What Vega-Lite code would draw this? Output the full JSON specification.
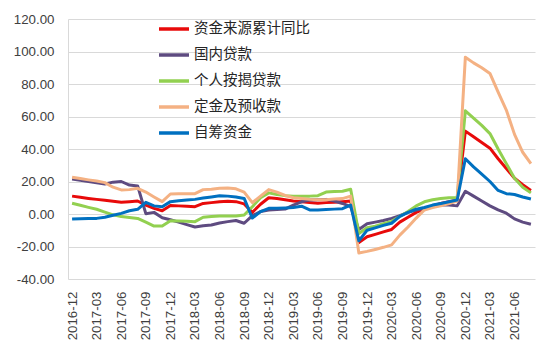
{
  "$schema": "https://vega.github.io/schema/vega-lite/v6.json",
  "width": 467,
  "height": 260,
  "autosize": "none",
  "padding": {"left": 68, "top": 19, "right": 15, "bottom": 78},
  "background": "white",
  "config": {"view": {"stroke": null}, "font": "Liberation Sans"},
  "data": {"values": [
    {"m":"2016-12","资金来源累计同比":11,"国内贷款":21.5,"个人按揭贷款":6.6,"定金及预收款":22.6,"自筹资金":-3.1},
    {"m":"2017-01","资金来源累计同比":10.3,"国内贷款":20.8,"个人按揭贷款":5.4,"定金及预收款":21.8,"自筹资金":-2.9},
    {"m":"2017-02","资金来源累计同比":9.6,"国内贷款":20,"个人按揭贷款":4.1,"定金及预收款":21,"自筹资金":-2.8},
    {"m":"2017-03","资金来源累计同比":9,"国内贷款":19.2,"个人按揭贷款":2.9,"定金及预收款":20.3,"自筹资金":-2.7},
    {"m":"2017-04","资金来源累计同比":8.4,"国内贷款":18.5,"个人按揭贷款":1.2,"定金及预收款":19.3,"自筹资金":-2},
    {"m":"2017-05","资金来源累计同比":7.8,"国内贷款":19.6,"个人按揭贷款":-0.5,"定金及预收款":16.5,"自筹资金":-0.8},
    {"m":"2017-06","资金来源累计同比":7.2,"国内贷款":20,"个人按揭贷款":-1.6,"定金及预收款":14.8,"自筹资金":0.4},
    {"m":"2017-07","资金来源累计同比":7.6,"国内贷款":17.8,"个人按揭贷款":-2.2,"定金及预收款":15,"自筹资金":2},
    {"m":"2017-08","资金来源累计同比":8,"国内贷款":17.3,"个人按揭贷款":-2.7,"定金及预收款":15.8,"自筹资金":2.9},
    {"m":"2017-09","资金来源累计同比":5.5,"国内贷款":0.2,"个人按揭贷款":-5,"定金及预收款":13.5,"自筹资金":7.2},
    {"m":"2017-10","资金来源累计同比":3.5,"国内贷款":1,"个人按揭贷款":-7.4,"定金及预收款":10.5,"自筹资金":5},
    {"m":"2017-11","资金来源累计同比":2,"国内贷款":-2.3,"个人按揭贷款":-7.4,"定金及预收款":7.6,"自筹资金":4.5},
    {"m":"2017-12","资金来源累计同比":5.2,"国内贷款":-3.5,"个人按揭贷款":-4.1,"定金及预收款":12.3,"自筹资金":7.6},
    {"m":"2018-01","资金来源累计同比":5,"国内贷款":-5,"个人按揭贷款":-4.3,"定金及预收款":12.4,"自筹资金":8.2},
    {"m":"2018-02","资金来源累计同比":4.8,"国内贷款":-6.5,"个人按揭贷款":-4.5,"定金及预收款":12.4,"自筹资金":8.6},
    {"m":"2018-03","资金来源累计同比":4.5,"国内贷款":-8,"个人按揭贷款":-4.7,"定金及预收款":12.5,"自筹资金":9},
    {"m":"2018-04","资金来源累计同比":6.5,"国内贷款":-7.2,"个人按揭贷款":-2,"定金及预收款":15,"自筹资金":9.8},
    {"m":"2018-05","资金来源累计同比":7,"国内贷款":-6.8,"个人按揭贷款":-1.5,"定金及预收款":15.2,"自筹资金":10.5},
    {"m":"2018-06","资金来源累计同比":7.6,"国内贷款":-5.5,"个人按揭贷款":-1.3,"定金及预收款":15.8,"自筹资金":11.2},
    {"m":"2018-07","资金来源累计同比":7.8,"国内贷款":-4.7,"个人按揭贷款":-1.2,"定金及预收款":16,"自筹资金":11},
    {"m":"2018-08","资金来源累计同比":7.6,"国内贷款":-4,"个人按揭贷款":-1.2,"定金及预收款":15.5,"自筹资金":10.5},
    {"m":"2018-09","资金来源累计同比":6.2,"国内贷款":-5.7,"个人按揭贷款":-0.6,"定金及预收款":13.5,"自筹资金":9.6},
    {"m":"2018-10","资金来源累计同比":1,"国内贷款":-1,"个人按揭贷款":4.5,"定金及预收款":7,"自筹资金":-2.5},
    {"m":"2018-11","资金来源累计同比":6,"国内贷款":1.5,"个人按揭贷款":10,"定金及预收款":11,"自筹资金":1.5},
    {"m":"2018-12","资金来源累计同比":10,"国内贷款":2.5,"个人按揭贷款":13,"定金及预收款":15,"自筹资金":3.5},
    {"m":"2019-01","资金来源累计同比":9.5,"国内贷款":2.8,"个人按揭贷款":12,"定金及预收款":13.5,"自筹资金":3.5},
    {"m":"2019-02","资金来源累计同比":8.8,"国内贷款":3,"个人按揭贷款":11.3,"定金及预收款":11.5,"自筹资金":3.7},
    {"m":"2019-03","资金来源累计同比":8,"国内贷款":5.5,"个人按揭贷款":11,"定金及预收款":10,"自筹资金":4},
    {"m":"2019-04","资金来源累计同比":7.5,"国内贷款":7.5,"个人按揭贷款":11,"定金及预收款":9.5,"自筹资金":4.8},
    {"m":"2019-05","资金来源累计同比":7,"国内贷款":8.6,"个人按揭贷款":11,"定金及预收款":9,"自筹资金":2.5},
    {"m":"2019-06","资金来源累计同比":6.6,"国内贷款":8.8,"个人按揭贷款":11.3,"定金及预收款":8.7,"自筹资金":2.5},
    {"m":"2019-07","资金来源累计同比":7,"国内贷款":9,"个人按揭贷款":13.5,"定金及预收款":8.8,"自筹资金":2.8},
    {"m":"2019-08","资金来源累计同比":7.3,"国内贷款":8,"个人按揭贷款":13.8,"定金及预收款":9.2,"自筹资金":3},
    {"m":"2019-09","资金来源累计同比":7.6,"国内贷款":6.5,"个人按揭贷款":14,"定金及预收款":9.5,"自筹资金":3.3},
    {"m":"2019-10","资金来源累计同比":8,"国内贷款":4.5,"个人按揭贷款":15.2,"定金及预收款":11,"自筹资金":5.5},
    {"m":"2019-11","资金来源累计同比":-17.5,"国内贷款":-9.5,"个人按揭贷款":-12,"定金及预收款":-24,"自筹资金":-16.5},
    {"m":"2019-12","资金来源累计同比":-14,"国内贷款":-6,"个人按揭贷款":-8.5,"定金及预收款":-23,"自筹资金":-10},
    {"m":"2020-01","资金来源累计同比":-12.5,"国内贷款":-5,"个人按揭贷款":-7.5,"定金及预收款":-21.8,"自筹资金":-8.5},
    {"m":"2020-02","资金来源累计同比":-11,"国内贷款":-4,"个人按揭贷款":-6,"定金及预收款":-20.5,"自筹资金":-7},
    {"m":"2020-03","资金来源累计同比":-9.5,"国内贷款":-2.7,"个人按揭贷款":-4.5,"定金及预收款":-19,"自筹资金":-5.7},
    {"m":"2020-04","资金来源累计同比":-5,"国内贷款":-1,"个人按揭贷款":-1.5,"定金及预收款":-13,"自筹资金":-1.5},
    {"m":"2020-05","资金来源累计同比":-2,"国内贷款":1,"个人按揭贷款":1.5,"定金及预收款":-8,"自筹资金":1},
    {"m":"2020-06","资金来源累计同比":1,"国内贷款":2.5,"个人按揭贷款":5,"定金及预收款":-2.5,"自筹资金":3},
    {"m":"2020-07","资金来源累计同比":3,"国内贷款":3.5,"个人按揭贷款":7.5,"定金及预收款":2.5,"自筹资金":4},
    {"m":"2020-08","资金来源累计同比":5,"国内贷款":4.5,"个人按揭贷款":8.8,"定金及预收款":4,"自筹资金":5.5},
    {"m":"2020-09","资金来源累计同比":6.5,"国内贷款":5.5,"个人按揭贷款":9.5,"定金及预收款":5,"自筹资金":6.5},
    {"m":"2020-10","资金来源累计同比":7.5,"国内贷款":5.5,"个人按揭贷款":10,"定金及预收款":6.5,"自筹资金":7.5},
    {"m":"2020-11","资金来源累计同比":8.5,"国内贷款":5,"个人按揭贷款":10.2,"定金及预收款":8,"自筹资金":8.6},
    {"m":"2020-12","资金来源累计同比":51,"国内贷款":14,"个人按揭贷款":63.5,"定金及预收款":96.5,"自筹资金":34},
    {"m":"2021-01","资金来源累计同比":47.5,"国内贷款":11,"个人按揭贷款":59,"定金及预收款":93,"自筹资金":29},
    {"m":"2021-02","资金来源累计同比":44,"国内贷款":8,"个人按揭贷款":54.5,"定金及预收款":90,"自筹资金":24.5},
    {"m":"2021-03","资金来源累计同比":40.5,"国内贷款":5,"个人按揭贷款":49.5,"定金及预收款":86.5,"自筹资金":20},
    {"m":"2021-04","资金来源累计同比":34,"国内贷款":2.5,"个人按揭贷款":40,"定金及预收款":75,"自筹资金":14.5},
    {"m":"2021-05","资金来源累计同比":28,"国内贷款":0.5,"个人按揭贷款":31,"定金及预收款":64,"自筹资金":12.5},
    {"m":"2021-06","资金来源累计同比":22,"国内贷款":-3,"个人按揭贷款":22,"定金及预收款":49,"自筹资金":12},
    {"m":"2021-07","资金来源累计同比":18,"国内贷款":-5,"个人按揭贷款":16.5,"定金及预收款":38,"自筹资金":10.5},
    {"m":"2021-08","资金来源累计同比":14.5,"国内贷款":-6.3,"个人按揭贷款":13,"定金及预收款":31,"自筹资金":9.2}
  ]},
  "transform": [
    {"fold": ["资金来源累计同比","国内贷款","个人按揭贷款","定金及预收款","自筹资金"], "as": ["series","value"]}
  ],
  "mark": {"type": "line", "strokeWidth": 3, "strokeJoin": "round"},
  "encoding": {
    "x": {
      "field": "m", "type": "ordinal", "sort": null,
      "scale": {"type": "point", "padding": 0.5},
      "axis": {
        "values": ["2016-12","2017-03","2017-06","2017-09","2017-12","2018-03","2018-06","2018-09","2018-12","2019-03","2019-06","2019-09","2019-12","2020-03","2020-06","2020-09","2020-12","2021-03","2021-06"],
        "title": null, "labelAngle": 270, "grid": false, "domain": false, "ticks": false,
        "labelPadding": 12, "labelFontSize": 13.3, "labelColor": "#404040", "labelFont": "Liberation Sans"
      }
    },
    "y": {
      "field": "value", "type": "quantitative",
      "scale": {"domain": [-40, 120], "nice": false, "zero": false},
      "axis": {
        "values": [-40,-20,0,20,40,60,80,100,120],
        "labelExpr": "replace(format(datum.value, '.2f'), '\u2212', '-')",
        "title": null, "grid": true, "gridColor": "#D9D9D9", "gridWidth": 1,
        "domain": true, "domainColor": "#D9D9D9", "ticks": false,
        "labelPadding": 14, "labelFontSize": 13.3, "labelColor": "#404040", "labelFont": "Liberation Sans"
      }
    },
    "color": {
      "field": "series", "type": "nominal",
      "scale": {
        "domain": ["资金来源累计同比","国内贷款","个人按揭贷款","定金及预收款","自筹资金"],
        "range": ["#E80A0A","#5E4B80","#92D050","#F4B183","#0070C0"]
      },
      "legend": {
        "orient": "none", "legendX": 89, "legendY": 2, "title": null,
        "symbolType": "stroke", "symbolSize": 900, "symbolStrokeWidth": 3.5,
        "labelFont": "Noto Sans CJK SC", "labelFontSize": 14.5, "labelColor": "#262626",
        "labelOffset": 3, "rowPadding": 10, "clipHeight": 16
      }
    }
  }
}
